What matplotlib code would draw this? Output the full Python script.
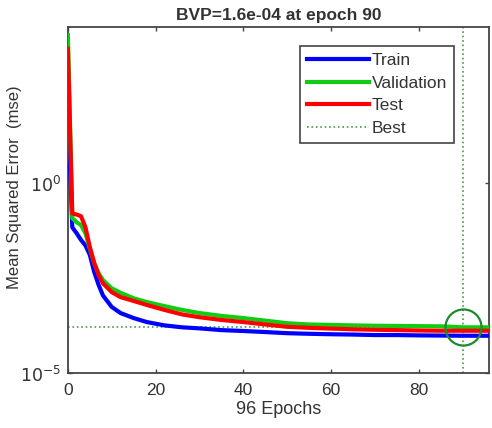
import matplotlib.pyplot as plt
import numpy as np

plt.rcParams["font.family"] = ["Liberation Sans", "DejaVu Sans"]

# performance values
epochs = [0, 1, 2, 3, 4, 5, 6, 7, 8, 10, 12, 15, 18, 22, 26, 30, 35, 40, 45,
          50, 55, 60, 65, 70, 75, 80, 85, 90, 96]
train_mse = [100, 0.069, 0.048, 0.032, 0.023, 0.013, 0.0046, 0.0021, 0.0011,
             5.5e-4, 3.8e-4, 2.8e-4, 2.2e-4, 1.8e-4, 1.6e-4, 1.5e-4, 1.35e-4,
             1.28e-4, 1.2e-4, 1.12e-4, 1.08e-4, 1.05e-4, 1.03e-4, 1.0e-4,
             1.0e-4, 0.98e-4, 0.97e-4, 0.96e-4, 0.96e-4]
val_mse = [8000, 0.12, 0.094, 0.079, 0.048, 0.019, 0.0079, 0.0043, 0.0028,
           0.0017, 0.0013, 9.3e-4, 7.4e-4, 5.8e-4, 4.6e-4, 3.8e-4, 3.2e-4,
           2.8e-4, 2.4e-4, 2.05e-4, 1.9e-4, 1.85e-4, 1.8e-4, 1.76e-4,
           1.74e-4, 1.72e-4, 1.7e-4, 1.6e-4, 1.6e-4]
test_mse = [3500, 0.16, 0.15, 0.135, 0.069, 0.021, 0.0079, 0.0038, 0.0023,
            0.00135, 0.001, 7.9e-4, 6.2e-4, 4.6e-4, 3.5e-4, 2.95e-4, 2.5e-4,
            2.2e-4, 1.9e-4, 1.65e-4, 1.55e-4, 1.48e-4, 1.42e-4, 1.38e-4,
            1.35e-4, 1.32e-4, 1.3e-4, 1.3e-4, 1.3e-4]
best_epoch = 90
best_val = 1.6e-4
n_epochs = 96

txt = "#333333"
fig = plt.figure(figsize=(4.92, 4.28), dpi=100)
ax = fig.add_axes([0.138, 0.1285, 0.856, 0.808])

ax.plot(epochs, train_mse, color="#0000ff", lw=3, label="Train", zorder=3)
ax.plot(epochs, val_mse, color="#11cc11", lw=3, label="Validation", zorder=4)
ax.plot(epochs, test_mse, color="#ff0000", lw=3, label="Test", zorder=5)
ax.axhline(best_val, color="#4a9a4a", ls=":", lw=1.2, label="Best", zorder=2)
ax.axvline(best_epoch, color="#4a9a4a", ls=":", lw=1.2, zorder=2)
ax.plot([best_epoch], [best_val], "o", ms=26, mfc="none", mec="#1e8a2e",
        mew=1.6, zorder=6)

ax.set_yscale("log")
ax.set_xlim(0, n_epochs)
ax.set_ylim(1e-5, 1.3e4)
ax.set_xticks([0, 20, 40, 60, 80])
ax.set_yticks([1e-5, 1e0])
ax.set_yticklabels(["$10^{-5}$", "$10^{0}$"])
ax.yaxis.set_minor_locator(plt.NullLocator())
ax.tick_params(direction="in", top=True, right=True, length=3, width=1,
               labelsize=12.5, colors="#444444", labelcolor=txt, pad=5)
ax.tick_params(axis="x", pad=7)
for s in ax.spines.values():
    s.set_color("#444444")
    s.set_linewidth(1.3)

ax.set_title("BVP=1.6e-04 at epoch 90", fontsize=12.5, fontweight="bold",
             color=txt, pad=5)
ax.set_xlabel(f"{n_epochs} Epochs", fontsize=13, color=txt, labelpad=2)
ax.set_ylabel("Mean Squared Error  (mse)", fontsize=12, color=txt)
ax.yaxis.set_label_coords(-0.109, 0.538)

leg = ax.legend(loc="upper right", bbox_to_anchor=(0.917, 0.945),
                borderaxespad=0, fontsize=12.5, handlelength=3.6,
                labelspacing=0.42, handletextpad=0.15, borderpad=0.4,
                fancybox=False, framealpha=1, edgecolor="#444444")
leg.get_frame().set_linewidth(1.2)
for t in leg.get_texts():
    t.set_color(txt)

fig.savefig("out.png", dpi=100)
